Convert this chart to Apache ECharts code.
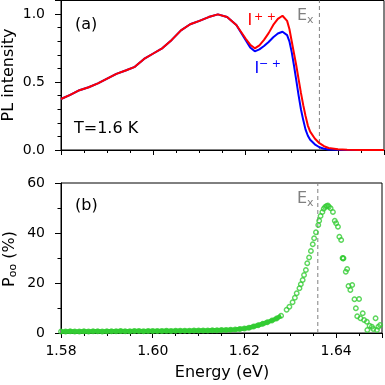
<!DOCTYPE html>
<html><head><meta charset="utf-8">
<script src="https://cdn.jsdelivr.net/npm/echarts@6/dist/echarts.min.js"></script>
<style>html,body{margin:0;padding:0;background:#fff}#c{width:385px;height:385px}</style>
</head><body><div id="c"></div>
<script>
// ---- Panel (a): PL intensity ----
const energyPL = [1.580,1.582,1.584,1.586,1.588,1.590,1.592,1.594,1.596,1.598,1.600,1.602,1.604,1.606,1.608,1.610,1.612,1.614,1.616,1.618,1.619,1.620,1.621,1.622,1.623,1.624,1.625,1.626,1.627,1.628,1.629,1.6295,1.630,1.6305,1.631,1.6315,1.632,1.6325,1.633,1.6335,1.634,1.635,1.636,1.637,1.638,1.640,1.642,1.645,1.650];
const intensityPP = [0.375,0.405,0.44,0.462,0.49,0.525,0.56,0.585,0.612,0.67,0.71,0.75,0.81,0.88,0.925,0.95,0.978,0.998,0.978,0.92,0.87,0.82,0.775,0.748,0.77,0.81,0.86,0.92,0.965,0.988,0.95,0.89,0.80,0.71,0.62,0.52,0.42,0.33,0.25,0.18,0.135,0.085,0.05,0.028,0.015,0.006,0.002,0,0];
const intensityMP = [0.375,0.405,0.44,0.462,0.49,0.525,0.56,0.585,0.612,0.67,0.71,0.75,0.81,0.88,0.925,0.95,0.978,0.998,0.978,0.92,0.865,0.81,0.755,0.726,0.74,0.765,0.795,0.83,0.857,0.87,0.845,0.80,0.72,0.62,0.51,0.40,0.30,0.22,0.15,0.105,0.075,0.042,0.02,0.009,0.004,0.001,0,0,0];
// ---- Panel (b): polarization ----
const polEnergy = [1.580,1.581,1.582,1.583,1.584,1.585,1.586,1.587,1.588,1.589,1.590,1.591,1.592,1.593,1.594,1.595,1.596,1.597,1.598,1.599,1.600,1.601,1.602,1.603,1.604,1.605,1.606,1.607,1.608,1.609,1.610,1.611,1.612,1.613,1.614,1.615,1.616,1.617,1.618,1.619,1.620,1.621,1.622,1.623,1.624,1.625,1.626,1.627,1.628,
  1.6292,1.6298,1.6305,1.6310,1.6314,1.6320,1.6323,1.6327,1.6330,1.6334,1.6337,1.6341,1.6345,1.6349,1.6352,1.6356,1.6361,1.6363,1.6366,1.6370,1.6373,1.6376,1.6379,1.6382,1.6384,1.6388,1.6393,1.6397,1.6400,1.6404,1.6407,1.6411,1.6414,1.6415,1.6416,1.6421,1.6424,1.6427,1.6431,1.6435,1.6440,1.6443,1.6446,1.6450,1.6453,1.6458,1.6461,1.6467,1.6468,1.6473,1.6478,1.6481,1.6486,1.6489,1.6492,1.6496];
const polValue = [0.6,0.6,0.7,0.6,0.6,0.7,0.6,0.7,0.7,0.6,0.7,0.7,0.7,0.8,0.7,0.7,0.8,0.8,0.7,0.8,0.8,0.8,0.8,0.9,0.8,0.9,0.9,0.9,0.9,1.0,1.0,1.0,1.0,1.1,1.1,1.2,1.2,1.3,1.4,1.6,1.8,2.1,2.6,3.1,3.7,4.3,5.0,5.8,6.9,
  9.3,10.5,12.3,14.1,15.9,17.9,19.5,21.2,23.2,25.2,27.9,30.2,32.8,35.5,37.9,40.3,43.2,44.9,46.8,48.4,49.7,50.4,50.8,51.0,50.5,49.9,48.4,44.9,43.9,42.5,38.5,37.2,30.0,29.8,29.9,24.5,25.6,18.8,17.2,19.2,13.5,9.9,6.7,13.6,5.9,7.9,5.2,4.5,1.2,2.9,2.5,1.6,5.9,1.2,2.5,3.2];
const denseLimit = 1.6285;   // below this the points form a continuous band
const exEnergy = 1.636;
const xMin = 1.58, xMax = 1.65;
const yMaxA = 1.1, yMaxB = 60;

const F = 'DejaVu Sans';
const green = '#33cc33';
const chart = echarts.init(document.getElementById('c'), null, {renderer: 'canvas'});

function zip(a, b) { return a.map((v, i) => [v, b[i]]); }
const polAll = zip(polEnergy, polValue);
const polDense = polAll.filter(p => p[0] <= denseLimit);

function xAx(grid, interval, len, labels, line) {
  return {
    type: 'value', gridIndex: grid, position: 'bottom', min: xMin, max: xMax, interval: interval,
    axisLine: {show: line, onZero: false, lineStyle: {color: '#000', width: 1}},
    axisTick: {show: true, length: len, lineStyle: {color: '#000', width: 1}},
    axisLabel: {show: labels, margin: 11, fontFamily: F, fontSize: 14, color: '#000',
      formatter: v => (Math.abs(v * 50 - Math.round(v * 50)) < 1e-6 && v < 1.645) ? v.toFixed(2) : ''},
    splitLine: {show: false}
  };
}
function yAx(grid, max, interval, len, labels, line, fmt) {
  return {
    type: 'value', gridIndex: grid, position: 'left', min: 0, max: max, interval: interval,
    axisLine: {show: line, onZero: false, lineStyle: {color: '#000', width: 1}},
    axisTick: {show: true, length: len, lineStyle: {color: '#000', width: 1}},
    axisLabel: {show: labels, margin: 16, fontFamily: F, fontSize: 14, color: '#000', formatter: fmt},
    splitLine: {show: false}
  };
}
function dashSeries(xi, yi, ymax) {
  return {type: 'line', xAxisIndex: xi, yAxisIndex: yi, data: [[exEnergy, 0], [exEnergy, ymax]],
    showSymbol: false, silent: true, z: 1, lineStyle: {color: '#808080', type: [4, 3], width: 1}};
}
function txt(x, y, text, size, color, align, rot) {
  return {type: 'text', x: x, y: y, rotation: rot || 0, z: 10,
    style: {text: text, font: size + 'px "' + F + '"', fill: color || '#000',
      align: align || 'left', verticalAlign: 'middle', textAlign: align || 'left', textVerticalAlign: 'middle'}};
}

chart.setOption({
  animation: false,
  backgroundColor: '#fff',
  grid: [
    {left: 61, top: 0.5, width: 323, height: 149.5, show: true, borderColor: '#000', borderWidth: 1, containLabel: false},
    {left: 61, top: 183, width: 323, height: 150, show: true, borderColor: '#000', borderWidth: 1, containLabel: false}
  ],
  xAxis: [
    xAx(0, 0.02, 5, false, true),
    xAx(0, 0.005, 3, false, false),
    xAx(1, 0.02, 5, true, true),
    xAx(1, 0.005, 3, false, false)
  ],
  yAxis: [
    yAx(0, yMaxA, 0.5, 6, true, true, v => (v > 1.05 ? '' : v.toFixed(1))),
    yAx(0, yMaxA, 0.1, 3.5, false, false),
    yAx(1, yMaxB, 20, 6, true, true, v => String(v)),
    yAx(1, yMaxB, 10, 3.5, false, false)
  ],
  series: [
    dashSeries(0, 0, yMaxA),
    dashSeries(2, 2, yMaxB),
    {type: 'line', xAxisIndex: 0, yAxisIndex: 0, data: zip(energyPL, intensityMP), showSymbol: false,
      lineStyle: {color: '#0000ff', width: 2}, z: 2},
    {type: 'line', xAxisIndex: 0, yAxisIndex: 0, data: zip(energyPL, intensityPP), showSymbol: false,
      lineStyle: {color: '#ff0000', width: 2}, z: 3},
    {type: 'line', xAxisIndex: 2, yAxisIndex: 2, data: polDense, showSymbol: false,
      lineStyle: {color: green, width: 4.5}, z: 2},
    {type: 'scatter', xAxisIndex: 2, yAxisIndex: 2, data: polAll, symbol: 'circle', symbolSize: 4.5,
      itemStyle: {color: 'rgba(0,0,0,0)', borderColor: green, borderWidth: 1.4}, z: 3}
  ],
  graphic: [
    txt(75, 25, '(a)', 16),
    txt(74, 129, 'T=1.6 K', 16),
    txt(75, 206, '(b)', 16),
    txt(247.5, 21, 'I', 16, '#ff0000'),
    txt(254, 17.5, '+ +', 11, '#ff0000'),
    txt(254.5, 69, 'I', 16, '#0000ff'),
    txt(259, 64.5, '\u2212 +', 11, '#0000ff'),
    txt(297, 16, 'E', 16, '#808080'),
    txt(307, 20.5, 'x', 11, '#808080'),
    txt(297, 199, 'E', 16, '#808080'),
    txt(307, 203.5, 'x', 11, '#808080'),
    txt(9, 75, 'PL intensity', 16, '#000', 'center', Math.PI / 2),
    {type: 'text', x: 10, y: 259, rotation: Math.PI / 2, z: 10,
      style: {text: '{p|P}{s|oo}{p| (%)}', font: '16px "' + F + '"', fill: '#000',
        align: 'center', verticalAlign: 'middle', textAlign: 'center', textVerticalAlign: 'middle',
        rich: {p: {fontSize: 16, fontFamily: F, lineHeight: 18}, s: {fontSize: 11, fontFamily: F, lineHeight: 11, verticalAlign: 'bottom'}}}},
    txt(222, 373, 'Energy (eV)', 16, '#000', 'center')
  ]
});
</script></body></html>
